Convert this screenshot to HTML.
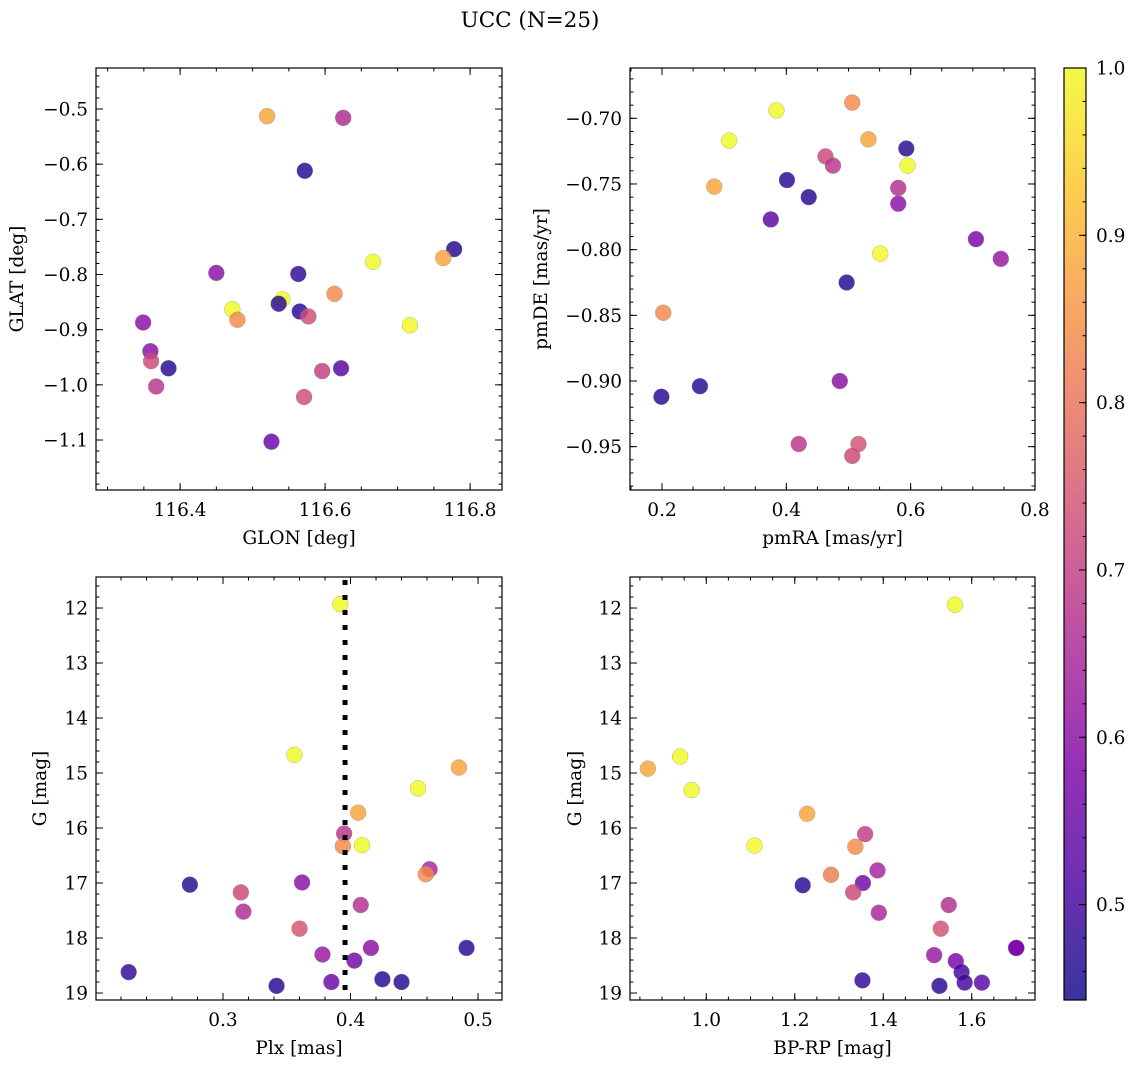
<!DOCTYPE html>
<html><head><meta charset="utf-8"><style>
html,body{margin:0;padding:0;background:#fff;}
svg{display:block;font-family:"DejaVu Serif","Liberation Serif",serif;}
</style></head><body>
<svg id="fig" width="1136" height="1067" viewBox="0 0 1136 1067" xmlns="http://www.w3.org/2000/svg">
<rect x="0" y="0" width="1136" height="1067" fill="#fff"/>
<text x="530" y="27" font-size="21.5" text-anchor="middle">UCC (N=25)</text>
<defs><linearGradient id="plasma" x1="0" y1="1" x2="0" y2="0">
<stop offset="0" stop-color="#0d0887"/><stop offset="0.125" stop-color="#4c02a1"/><stop offset="0.25" stop-color="#7e03a8"/><stop offset="0.375" stop-color="#a92395"/><stop offset="0.5" stop-color="#cc4778"/><stop offset="0.625" stop-color="#e66c5c"/><stop offset="0.75" stop-color="#f89540"/><stop offset="0.875" stop-color="#fdc527"/><stop offset="1" stop-color="#f0f921"/>
</linearGradient></defs>
</svg>
<script>
// ---- data ----
const tlGlon = [116.520,116.625,116.572,116.778,116.763,116.666,116.450,116.563,116.613,116.472,116.541,116.536,116.479,116.565,116.577,116.717,116.349,116.359,116.360,116.384,116.596,116.622,116.367,116.571,116.526];
const tlGlat = [-0.513,-0.516,-0.612,-0.754,-0.770,-0.777,-0.797,-0.799,-0.835,-0.863,-0.845,-0.853,-0.882,-0.867,-0.876,-0.892,-0.887,-0.939,-0.957,-0.970,-0.975,-0.970,-1.003,-1.022,-1.103];
const tlProb = [0.88,0.66,0.47,0.47,0.88,1.0,0.6,0.48,0.84,1.0,1.0,0.47,0.84,0.47,0.73,1.0,0.6,0.6,0.72,0.47,0.7,0.52,0.68,0.73,0.55];

const trPmra = [0.506,0.384,0.308,0.532,0.593,0.595,0.463,0.475,0.401,0.284,0.580,0.436,0.580,0.375,0.705,0.745,0.551,0.497,0.202,0.261,0.199,0.486,0.420,0.516,0.506];
const trPmde = [-0.688,-0.694,-0.717,-0.716,-0.723,-0.736,-0.729,-0.736,-0.747,-0.752,-0.753,-0.760,-0.765,-0.777,-0.792,-0.807,-0.803,-0.825,-0.848,-0.904,-0.912,-0.900,-0.948,-0.948,-0.957];
const trProb = [0.84,1.0,1.0,0.88,0.47,1.0,0.72,0.68,0.47,0.88,0.67,0.47,0.6,0.53,0.58,0.62,1.0,0.47,0.84,0.47,0.47,0.6,0.68,0.74,0.72];

const blPlx = [0.392,0.356,0.485,0.453,0.406,0.395,0.394,0.409,0.462,0.459,0.274,0.362,0.314,0.316,0.408,0.360,0.491,0.416,0.378,0.403,0.226,0.425,0.440,0.385,0.342];
const blG = [11.93,14.67,14.90,15.28,15.72,16.10,16.33,16.31,16.75,16.84,17.03,16.99,17.17,17.52,17.40,17.83,18.18,18.18,18.30,18.41,18.62,18.75,18.80,18.80,18.87];
const blProb = [1.0,1.0,0.88,1.0,0.88,0.68,0.84,1.0,0.65,0.84,0.47,0.6,0.72,0.66,0.67,0.74,0.47,0.6,0.62,0.56,0.48,0.47,0.47,0.55,0.47];
const plxMedian = 0.3957;

const brBprp = [1.562,0.868,0.941,0.967,1.228,1.359,1.109,1.337,1.387,1.218,1.282,1.354,1.332,1.390,1.548,1.530,1.700,1.701,1.515,1.564,1.577,1.584,1.623,1.353,1.527];
const brG = [11.94,14.92,14.70,15.31,15.74,16.11,16.32,16.34,16.77,17.04,16.85,17.00,17.17,17.54,17.40,17.83,18.18,18.18,18.31,18.42,18.62,18.81,18.81,18.77,18.87];
const brProb = [1.0,0.88,1.0,1.0,0.88,0.7,1.0,0.84,0.64,0.47,0.82,0.56,0.72,0.65,0.67,0.74,0.58,0.58,0.62,0.57,0.5,0.5,0.53,0.48,0.47];

const cbMin = 0.443, cbMax = 1.0;
const cbTicks = [0.5,0.6,0.7,0.8,0.9,1.0];

const NS = "http://www.w3.org/2000/svg";
const svg = document.getElementById('fig');
const FS = 18.5;
function mk(tag, attrs, parent){
  const e = document.createElementNS(NS, tag);
  for (const k in attrs) e.setAttribute(k, attrs[k]);
  (parent||svg).appendChild(e);
  return e;
}
const stops = [[0,[13,8,135]],[0.125,[76,2,161]],[0.25,[126,3,168]],[0.375,[169,35,149]],[0.5,[204,71,120]],[0.625,[230,108,92]],[0.75,[248,149,64]],[0.875,[253,197,39]],[1,[240,249,33]]];
function cmap(p){
  let t = (p-cbMin)/(cbMax-cbMin); t=Math.max(0,Math.min(1,t));
  for (let i=0;i<stops.length-1;i++){
    if (t<=stops[i+1][0]){
      const f=(t-stops[i][0])/(stops[i+1][0]-stops[i][0]);
      const a=stops[i][1], b=stops[i+1][1];
      return 'rgb('+a.map((v,j)=>Math.round(v+(b[j]-v)*f)).join(',')+')';
    }
  }
  return 'rgb(240,249,33)';
}
function fmt(v,d){ const s=v.toFixed(d); return s.startsWith('-') ? '\u2212'+s.slice(1) : s; }

function panel(o){
  const g = mk('g',{});
  
  
  const X = v => o.L + (v-o.x0)/(o.x1-o.x0)*(o.R-o.L);
  const Y = v => o.T + (v-o.y0)/(o.y1-o.y0)*(o.B-o.T);
  function ticks(start, end, step, lo, hi, isX, len, major, dec){
    const n = Math.round((end-start)/step);
    for (let i=0;i<=n;i++){
      const v = start + i*step;
      if (v < Math.min(lo,hi)-1e-9 || v > Math.max(lo,hi)+1e-9) continue;
      if (isX){
        const x = X(v);
        const t1 = mk('line',{x1:x,x2:x,y1:o.B,y2:o.B-len,stroke:'#000','stroke-width':1},g);
        
        
        mk('line',{x1:x,x2:x,y1:o.T,y2:o.T+len,stroke:'#000','stroke-width':1},g);
        if (major){
          const tx = mk('text',{x:x,y:o.B+26,'font-size':FS,'text-anchor':'middle'},g);
          
          
          tx.textContent = fmt(v,dec);
        }
      } else {
        const y = Y(v);
        const t1 = mk('line',{x1:o.L,x2:o.L+len,y1:y,y2:y,stroke:'#000','stroke-width':1},g);
        
        
        mk('line',{x1:o.R,x2:o.R-len,y1:y,y2:y,stroke:'#000','stroke-width':1},g);
        if (major){
          const tx = mk('text',{x:o.L-8,y:y+6.5,'font-size':FS,'text-anchor':'end'},g);
          
          
          tx.textContent = fmt(v,dec);
        }
      }
    }
  }
  ticks(o.xm[0],o.xm[1],o.xm[2],o.x0,o.x1,true,3.5,false,0);
  ticks(o.xM[0],o.xM[1],o.xM[2],o.x0,o.x1,true,7,true,o.xd);
  ticks(o.ym[0],o.ym[1],o.ym[2],o.y0,o.y1,false,3.5,false,0);
  ticks(o.yM[0],o.yM[1],o.yM[2],o.y0,o.y1,false,7,true,o.yd);
  for (let i=0;i<o.xs.length;i++){
    const c = mk('circle',{cx:X(o.xs[i]),cy:Y(o.ys[i]),r:8,fill:cmap(o.ps[i]),'fill-opacity':0.82,stroke:'#888','stroke-width':0.5,'stroke-opacity':0.6},g);
    
    
  }
  if (o.vline !== undefined){
    const l = mk('line',{x1:X(o.vline),x2:X(o.vline),y1:o.T+3,y2:o.B,stroke:'#000','stroke-width':5,'stroke-dasharray':'5 10'},g);
    
    
  }
  const fr = mk('rect',{x:o.L,y:o.T,width:o.R-o.L,height:o.B-o.T,fill:'none',stroke:'#000','stroke-width':1.2},g);
  
  
  const xl = mk('text',{x:(o.L+o.R)/2,y:o.B+54,'font-size':FS,'text-anchor':'middle'},g);
  
  
  xl.textContent = o.xlabel;
  const yl = mk('text',{x:0,y:0,'font-size':FS,'text-anchor':'middle',transform:'translate('+o.ylx+','+((o.T+o.B)/2)+') rotate(-90)'},g);
  
  
  yl.textContent = o.ylabel;
}

panel({name:'glon-glat-panel',L:96,R:502,T:68,B:490,x0:116.284,x1:116.844,y0:-0.4257,y1:-1.1906,
  xM:[116.2,117.0,0.2],xm:[116.2,117.0,0.05],xd:1,yM:[-0.4,-1.2,-0.1],ym:[-0.4,-1.2,-0.02],yd:1,
  xs:tlGlon,ys:tlGlat,ps:tlProb,xlabel:'GLON [deg]',ylabel:'GLAT [deg]',ylx:23});
panel({name:'pm-panel',L:630,R:1035,T:68,B:490,x0:0.1485,x1:0.8,y0:-0.6617,y1:-0.983,
  xM:[0.0,1.0,0.2],xm:[0.0,1.0,0.05],xd:1,yM:[-0.65,-1.0,-0.05],ym:[-0.65,-1.0,-0.01],yd:2,
  xs:trPmra,ys:trPmde,ps:trProb,xlabel:'pmRA [mas/yr]',ylabel:'pmDE [mas/yr]',ylx:547});
panel({name:'plx-g-panel',L:96,R:502,T:577,B:1000,x0:0.2004,x1:0.5188,y0:11.436,y1:19.127,
  xM:[0.2,0.6,0.1],xm:[0.2,0.6,0.02],xd:1,yM:[11,20,1],ym:[11,20,0.2],yd:0,
  xs:blPlx,ys:blG,ps:blProb,vline:plxMedian,xlabel:'Plx [mas]',ylabel:'G [mag]',ylx:46});
panel({name:'cmd-panel',L:630,R:1035,T:577,B:1000,x0:0.8276,x1:1.743,y0:11.436,y1:19.127,
  xM:[0.8,1.8,0.2],xm:[0.8,1.8,0.05],xd:1,yM:[11,20,1],ym:[11,20,0.2],yd:0,
  xs:brBprp,ys:brG,ps:brProb,xlabel:'BP-RP [mag]',ylabel:'G [mag]',ylx:581});

(function(){
  const L=1064,R=1086,T=68,B=1000;
  const g = mk('g',{});
  
  
  mk('rect',{x:L,y:T,width:R-L,height:B-T,fill:'url(#plasma)','fill-opacity':0.82},g);
  const Y = v => B - (v-cbMin)/(cbMax-cbMin)*(B-T);
  for (let v=0.46; v<=1.0001; v+=0.02){
    mk('line',{x1:R,x2:R-3.5,y1:Y(v),y2:Y(v),stroke:'#000','stroke-width':1},g);
  }
  for (let i=0;i<cbTicks.length;i++){
    const v=cbTicks[i];
    const t = mk('line',{x1:R,x2:R-7,y1:Y(v),y2:Y(v),stroke:'#000','stroke-width':1},g);
    
    
    const tx = mk('text',{x:R+10,y:Y(v)+6.5,'font-size':FS},g);
    
    
    tx.textContent = v.toFixed(1);
  }
  mk('rect',{x:L,y:T,width:R-L,height:B-T,fill:'none',stroke:'#000','stroke-width':1.2},g);
})();
</script>
</body></html>
